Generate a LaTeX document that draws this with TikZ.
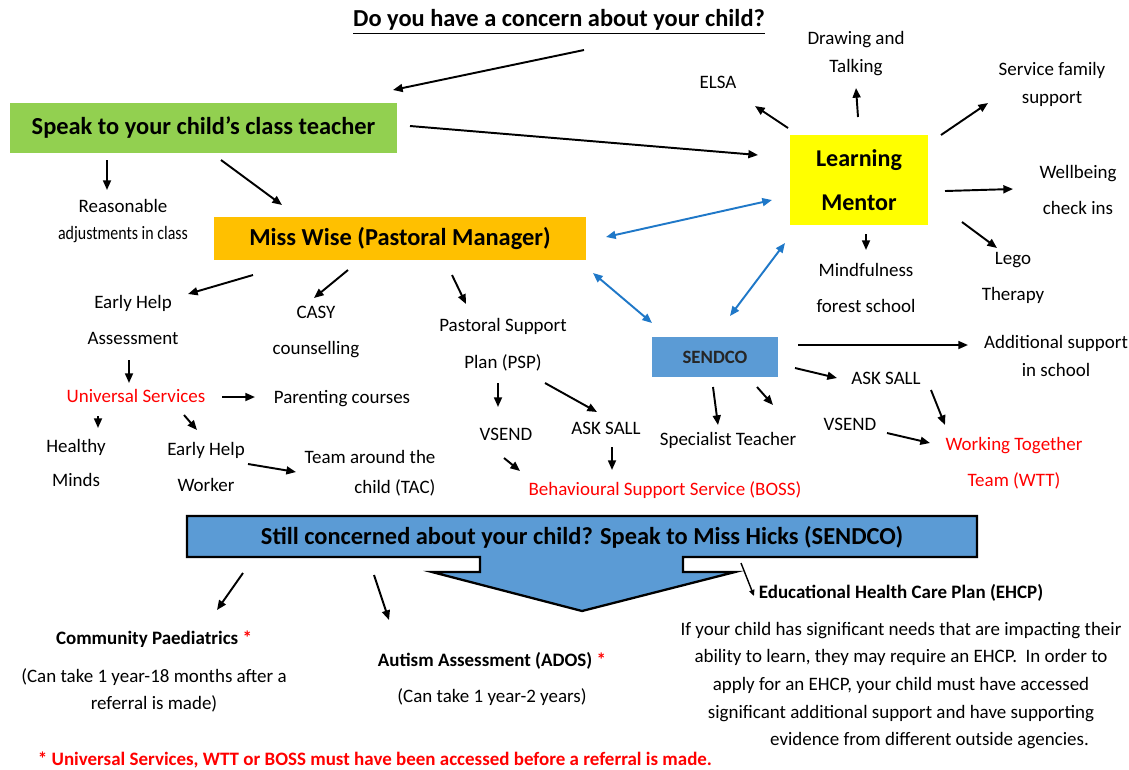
\documentclass[tikz,border=0pt]{standalone}
\usepackage{fontspec}
\setmainfont{Carlito}
\usetikzlibrary{arrows.meta,calc}
\definecolor{cgreen}{HTML}{92D050}
\definecolor{corange}{HTML}{FFC000}
\definecolor{cyellow}{HTML}{FFFF00}
\definecolor{cbox}{HTML}{5B9BD5}
\definecolor{carrow}{HTML}{1F78C8}
\definecolor{cred}{HTML}{FF0000}
\begin{document}
\begin{tikzpicture}[x=0.02cm,y=-0.02cm,
  lbl/.style={font=\fontsize{10.8}{#1}\selectfont, align=center, inner sep=0pt},
  lbl/.default=16pt,
  rlbl/.style={lbl=#1, text=cred},
  rlbl/.default=16pt,
  blbl/.style={font=\fontsize{10.8}{16}\selectfont\bfseries, align=center, inner sep=0pt},
  head/.style={font=\fontsize{13.9}{16}\selectfont\bfseries, align=center, inner sep=0pt},
  fbox/.style={draw=none, inner sep=0pt},
  arr/.style={-{Triangle[length=5.5pt,width=4.5pt]}, line width=1.1pt},
  barr/.style={{Triangle[length=5.5pt,width=4.5pt]}-{Triangle[length=5.5pt,width=4.5pt]}, line width=1.1pt, draw=carrow}]
\useasboundingbox (0,0) rectangle (1129,769);
\fill[white] (0,0) rectangle (1129,769);

% title
\node[head] (title) at (559,22) {\underline{Do you have a concern about your child?}};

% main boxes
\node[fbox, fill=cgreen, minimum width=7.74cm, minimum height=1.0cm, head] (green) at (203.5,128) {Speak to your child’s class teacher};
\node[fbox, fill=corange, minimum width=7.44cm, minimum height=0.86cm, head] (mw) at (400,238.5) {Miss Wise (Pastoral Manager)};
\node[fbox, fill=cyellow, minimum width=2.76cm, minimum height=1.8cm, font=\fontsize{13.7}{25}\selectfont\bfseries, align=center, inner sep=0pt] (lm) at (859,180) {Learning\\Mentor};
\node[fbox, fill=cbox, minimum width=2.52cm, minimum height=0.8cm, font=\fontsize{10.7}{12}\selectfont\bfseries, text=black!85] (sendco) at (715,357) {SENDCO};

% labels
\node[lbl=15.9pt] (reas) at (123,221) {Reasonable\\\scalebox{0.84}[1]{adjustments in class}};
\node[lbl] (elsa) at (718,82) {ELSA};
\node[lbl=15.9pt] (dt) at (856,54) {Drawing and\\Talking};
\node[lbl=15.9pt] (sfs) at (1052,84) {Service family\\support};
\node[lbl=20.4pt] (wb) at (1078,190) {Wellbeing\\check ins};
\node[lbl=20.4pt] (lego) at (1013,278) {Lego\\Therapy};
\node[lbl=20.4pt] (mind) at (866,288) {Mindfulness\\forest school};
\node[lbl=20.4pt] (eha) at (133,320) {Early Help\\Assessment};
\node[lbl=20.4pt] (casy) at (316,332) {CASY\\counselling};
\node[lbl=21pt] (psp) at (503,344.5) {Pastoral Support\\Plan (PSP)};
\node[rlbl] (us) at (136,396) {Universal Services};
\node[lbl] (pc) at (342,399) {Parenting courses};
\node[lbl=19.8pt] (hm) at (76,463) {Healthy\\Minds};
\node[lbl=20.4pt] (ehw) at (206,467) {Early Help\\Worker};
\node[lbl=17pt, align=right] (tac) at (370,473) {Team around the\\child (TAC)};
\node[lbl] (vsend1) at (506,434) {VSEND};
\node[lbl] (asksall1) at (606,428) {ASK SALL};
\node[rlbl] (boss) at (665,490) {Behavioural Support Service (BOSS)};
\node[lbl=15.9pt] (addsup) at (1056,356) {Additional support\\in school};
\node[lbl] (asksall2) at (886,378) {ASK SALL};
\node[lbl] (spt) at (728,440) {Specialist Teacher};
\node[lbl] (vsend2) at (850,424) {VSEND};
\node[rlbl=20.4pt] (wtt) at (1014,463) {Working Together\\Team (WTT)};

% callout
\draw[fill=cbox, line width=1.3pt, line join=miter]
  (187,516) -- (977,516) -- (977,557) -- (683,557) -- (683,572) -- (735,572)
  -- (582,611) -- (432,572) -- (480,572) -- (480,557) -- (187,557) -- cycle;
\node[head] (still) at (582,537) {Still concerned about your child? Speak to Miss Hicks (SENDCO)};

% lower texts
\node[blbl] (cp) at (154,639) {Community Paediatrics \textcolor{cred}{*}};
\node[lbl=15.3pt] (cpnote) at (154,690.5) {(Can take 1 year-18 months after a\\referral is made)};
\node[blbl] (ados) at (492,661) {Autism Assessment (ADOS) \textcolor{cred}{*}};
\node[lbl] (adosnote) at (492,697) {(Can take 1 year-2 years)};
\node[blbl] (ehcp) at (901,593) {Educational Health Care Plan (EHCP)};
\node[lbl=15.7pt] (ehcpnote) at (901,685.5) {If your child has significant needs that are impacting their\\ability to learn, they may require an EHCP.\ \ In order to\\apply for an EHCP, your child must have accessed\\significant additional support and have supporting\\\hspace{3em}evidence from different outside agencies.};
\node[blbl, text=cred] (foot) at (375,760) {* Universal Services, WTT or BOSS must have been accessed before a referral is made.};

% black arrows
\draw[arr] ($(title)+(25,28)$) -- ($(green)+(189.5,-38)$);
\draw[arr] ($(green)+(206.5,-2)$) -- ($(lm)+(-101,-25)$);
\draw[arr] ($(green)+(-96.5,32)$) -- ($(reas)+(-16,-31)$);
\draw[arr] ($(green)+(17.5,32)$) -- ($(mw)+(-118,-33.5)$);
\draw[arr] ($(lm)+(-71,-52)$) -- ($(elsa)+(37,24)$);
\draw[arr] ($(lm)+(-1,-63)$) -- ($(dt)+(0,34)$);
\draw[arr] ($(lm)+(82,-45)$) -- ($(sfs)+(-64,19)$);
\draw[arr] ($(lm)+(86,11)$) -- ($(wb)+(-65,-1)$);
\draw[arr] ($(lm)+(103,42)$) -- ($(lego)+(-16,-30)$);
\draw[arr] ($(lm)+(7,54)$) -- ($(mind)+(0,-38)$);
\draw[arr] ($(mw)+(-147,36.5)$) -- ($(eha)+(55,-26)$);
\draw[arr] ($(mw)+(-52,31.5)$) -- ($(casy)+(-2,-34)$);
\draw[arr] ($(mw)+(52,36.5)$) -- ($(psp)+(-37,-40.5)$);
\draw[arr] ($(eha)+(-4,40)$) -- ($(us)+(-7,-13)$);
\draw[arr] ($(us)+(86,1)$) -- ($(pc)+(-87,-2)$);
\draw[arr] ($(us)+(-38,20)$) -- ($(hm)+(22,-35)$);
\draw[arr] ($(us)+(48,19)$) -- ($(ehw)+(-9,-37)$);
\draw[arr] ($(ehw)+(42,-3)$) -- ($(tac)+(-74,-1)$);
\draw[arr] ($(psp)+(-5,38.5)$) -- ($(vsend1)+(-8,-27)$);
\draw[arr] ($(psp)+(42,38.5)$) -- ($(asksall1)+(-9,-16)$);
\draw[arr] ($(vsend1)+(-2,24)$) -- ($(boss)+(-145,-19)$);
\draw[arr] ($(asksall1)+(6,19)$) -- ($(boss)+(-53,-20)$);
\draw[arr] ($(sendco)+(83,-12)$) -- ($(addsup)+(-88,-11)$);
\draw[arr] ($(sendco)+(80,11)$) -- ($(asksall2)+(-49,0)$);
\draw[arr] ($(sendco)+(-2,30)$) -- ($(spt)+(-10,-15)$);
\draw[arr] ($(sendco)+(42,30)$) -- ($(spt)+(45,-35)$);
\draw[arr] ($(asksall2)+(45,12)$) -- ($(wtt)+(-69,-38)$);
\draw[arr] ($(vsend2)+(37,9)$) -- ($(wtt)+(-84,-20)$);
\draw[arr] ($(still)+(-339,36)$) -- ($(cp)+(63,-29)$);
\draw[arr] ($(still)+(-208,38)$) -- ($(ados)+(-103,-41)$);
\draw[arr, -{Triangle[length=3.5pt,width=3pt]}, line width=0.8pt] ($(still)+(159,26)$) -- ($(ehcp)+(-147,3)$);

% blue double arrows
\draw[barr] ($(mw)+(206,-1.5)$) -- ($(lm)+(-87,20)$);
\draw[barr] ($(mw)+(193,34.5)$) -- ($(sendco)+(-63,-34)$);
\draw[barr] ($(lm)+(-74,63)$) -- ($(sendco)+(15,-41)$);
\end{tikzpicture}
\end{document}
